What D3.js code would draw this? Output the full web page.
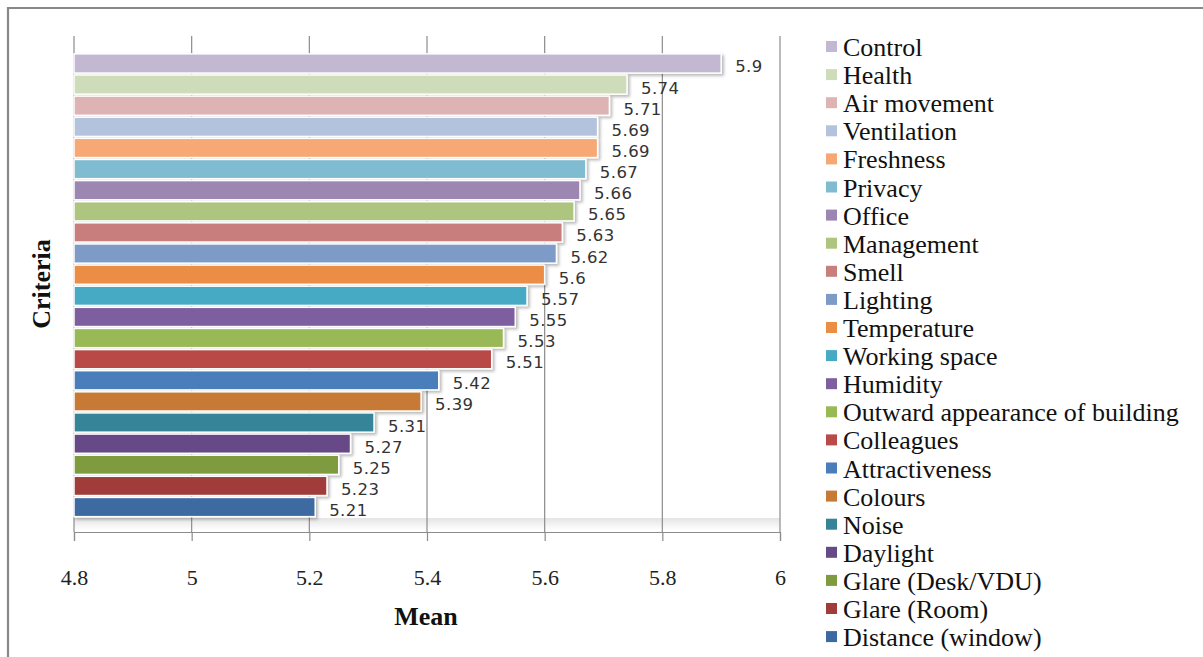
<!DOCTYPE html>
<html><head><meta charset="utf-8">
<script src="https://cdn.jsdelivr.net/npm/d3@7"></script>
<style>body{margin:0;background:#fff}svg{display:block}
.serif{font-family:"Liberation Serif","DejaVu Serif","Times New Roman",Times,serif}
</style>
</head><body><svg id="c" width="1203" height="657"></svg>
<script>
const categories = ["Control","Health","Air movement","Ventilation","Freshness","Privacy","Office","Management","Smell","Lighting","Temperature","Working space","Humidity","Outward appearance of building","Colleagues","Attractiveness","Colours","Noise","Daylight","Glare (Desk/VDU)","Glare (Room)","Distance (window)"];
const values = [5.9,5.74,5.71,5.69,5.69,5.67,5.66,5.65,5.63,5.62,5.6,5.57,5.55,5.53,5.51,5.42,5.39,5.31,5.27,5.25,5.23,5.21];
const colors = ["#C2B8D1","#CFDCB9","#DEB3B3","#B3C2DD","#F6A874","#7FBBD1","#9B87B2","#ADC57E","#C87E7C","#7E9BC8","#EC8D44","#46AAC5","#7D5FA0","#98B954","#B94A47","#4A7EBB","#C77A35","#358497","#664A86","#7E9B3F","#A03C3A","#3C6AA0"];
const xTicks = [4.8,5,5.2,5.4,5.6,5.8,6];

const svg = d3.select("#c");
const defs = svg.append("defs");
const f = defs.append("filter").attr("id","sh").attr("x","-5%").attr("y","-30%").attr("width","115%").attr("height","180%");
f.append("feDropShadow").attr("dx",2).attr("dy",2).attr("stdDeviation",1.6).attr("flood-color","#000").attr("flood-opacity",0.28);
const g1 = defs.append("linearGradient").attr("id","ag").attr("x1",0).attr("y1",0).attr("x2",0).attr("y2",1);
g1.append("stop").attr("offset","0").attr("stop-color","#e4e4e4");
g1.append("stop").attr("offset","1").attr("stop-color","#ffffff");

// frame
svg.append("path").attr("d","M8,700 L8,8 L1210,8").attr("fill","none").attr("stroke","#888").attr("stroke-width",2.2);

const x = d3.scaleLinear().domain([4.8,6]).range([74,780]);
const y = d3.scaleBand().domain(categories).range([53,517.5]).paddingInner(0.09).paddingOuter(0.04);

// shadow strip
svg.append("rect").attr("x",74).attr("y",518).attr("width",706).attr("height",12).attr("fill","url(#ag)");

// gridlines
svg.append("g").selectAll("line").data(xTicks).join("line")
  .attr("x1",d=>x(d)).attr("x2",d=>x(d)).attr("y1",36).attr("y2",532)
  .attr("stroke","#8c8c8c").attr("stroke-width",1.2);

// axis
const ax = svg.append("g").attr("transform","translate(0,532)")
  .call(d3.axisBottom(x).tickValues(xTicks).tickSize(9).tickPadding(28).tickFormat(d3.format("~g")));
ax.attr("font-family",null).attr("font-size",null);
ax.select(".domain").attr("stroke","#8c8c8c").attr("stroke-width",1.2);
ax.selectAll(".tick line").attr("stroke","#8c8c8c").attr("stroke-width",1.2);
ax.selectAll("text").attr("class","serif").attr("font-size",22).attr("fill","#222");

// bars
svg.append("g").selectAll("rect").data(categories).join("rect")
  .attr("x",x(4.8)).attr("y",d=>y(d)).attr("width",(d,i)=>x(values[i])-x(4.8)).attr("height",y.bandwidth())
  .attr("fill",(d,i)=>colors[i]).attr("stroke","#fff").attr("stroke-width",1.5).attr("filter","url(#sh)");

// value labels
svg.append("g").selectAll("text").data(categories).join("text")
  .attr("x",(d,i)=>x(values[i])+14).attr("y",d=>y(d)+y.bandwidth()/2+9)
  .attr("font-family","DejaVu Sans, Verdana, sans-serif").attr("font-size",16.5).attr("letter-spacing",0.4).attr("fill","#333")
  .text((d,i)=>String(values[i]));

// axis titles
svg.append("text").attr("class","serif").attr("x",426).attr("y",625).attr("text-anchor","middle")
  .attr("font-weight","bold").attr("font-size",26).attr("fill","#111").text("Mean");
svg.append("text").attr("class","serif").attr("transform","translate(50,284) rotate(-90)").attr("text-anchor","middle")
  .attr("font-weight","bold").attr("font-size",26).attr("fill","#111").text("Criteria");

// legend
const lg = svg.append("g").selectAll("g").data(categories).join("g")
  .attr("transform",(d,i)=>`translate(826,${46.5+i*28.1})`);
lg.append("rect").attr("x",0).attr("y",-5.5).attr("width",11).attr("height",11).attr("fill",(d,i)=>colors[i]);
lg.append("text").attr("class","serif").attr("x",17).attr("y",9.5)
  .attr("font-size",26).attr("fill","#111").text(d=>d);
</script></body></html>
